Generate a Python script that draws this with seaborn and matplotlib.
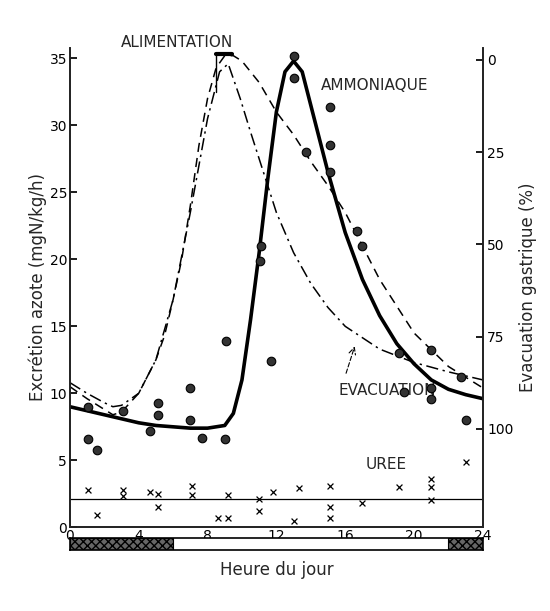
import matplotlib
matplotlib.use("Agg")
import matplotlib.pyplot as plt
import seaborn as sns
import pandas as pd
from matplotlib.patches import Rectangle

sns.set_theme(style="white")
plt.rcParams['font.family'] = ['DejaVu Sans']

amm_x = [1.05, 1.05, 1.6, 3.1, 4.65, 5.1, 5.1, 7.0, 7.0, 7.7, 9.0, 9.1, 11.05, 11.1, 11.7, 13.0, 13.0, 13.7, 15.1, 15.1, 15.1, 16.7, 17.0, 19.1, 19.4, 21.0, 21.0, 21.0, 22.7, 23.0]
amm_y = [9.0, 6.6, 5.8, 8.7, 7.2, 9.3, 8.4, 10.4, 8.0, 6.7, 6.6, 13.9, 19.9, 21.0, 12.4, 35.2, 33.5, 28.0, 31.4, 28.5, 26.5, 22.1, 21.0, 13.0, 10.1, 13.2, 10.4, 9.6, 11.2, 8.0]
uree_x = [1.05, 1.6, 3.1, 3.1, 4.65, 5.1, 5.1, 7.1, 7.1, 8.6, 9.2, 9.2, 11.0, 11.0, 11.8, 13.0, 13.3, 15.1, 15.1, 15.1, 17.0, 19.1, 21.0, 21.0, 21.0, 23.0]
uree_y = [2.8, 0.9, 2.8, 2.3, 2.6, 2.5, 1.5, 3.1, 2.4, 0.7, 0.7, 2.4, 2.1, 1.2, 2.6, 0.5, 2.9, 3.1, 1.5, 0.7, 1.8, 3.0, 3.6, 3.0, 2.0, 4.9]
uree_level = 2.1

sol_x = [0, 1, 2, 3, 4, 5, 6, 7, 8, 9, 9.5, 10, 10.5, 11, 11.5, 12, 12.5, 13, 13.5, 14, 15, 16, 17, 18, 19, 20, 21, 22, 23, 24]
sol_y = [9.0, 8.7, 8.4, 8.1, 7.8, 7.6, 7.5, 7.4, 7.4, 7.6, 8.5, 11.0, 15.5, 20.5, 26.0, 31.0, 34.0, 34.8, 34.0, 31.5, 26.5, 22.0, 18.5, 15.8, 13.7, 12.2, 11.0, 10.3, 9.9, 9.6]
dash_x = [0, 1, 2, 2.5, 3, 4, 5, 5.5, 6, 6.5, 7, 7.5, 8, 8.5, 9, 9.5, 10, 11, 12, 13, 14, 15, 16, 18, 20, 22, 24]
dash_y = [10.5, 9.6, 8.8, 8.4, 8.6, 10.0, 12.5, 14.3, 17.0, 20.0, 24.0, 28.5, 32.0, 34.3, 35.2, 35.2, 34.8, 33.2, 31.0, 29.3, 27.3, 25.5, 23.5, 18.5, 14.5, 12.0, 10.4]
dd_x = [0, 1, 2, 2.5, 3, 4, 5, 6, 7, 8, 8.7, 9.2, 9.9, 10.5, 11, 12, 13, 14, 15, 16, 18, 20, 22, 24]
dd_y = [10.8, 10.0, 9.3, 9.0, 9.1, 10.0, 12.5, 17.0, 23.5, 30.5, 34.0, 34.6, 32.0, 29.5, 27.5, 23.5, 20.5, 18.2, 16.4, 15.0, 13.3, 12.3, 11.6, 11.0]

fig = plt.figure(figsize=(5.5, 6.11), dpi=100)
ax = fig.add_axes([0.127, 0.137, 0.751, 0.785])
ax.set_xlim(0, 24)
ax.set_ylim(0, 35.8)

sns.lineplot(x=sol_x, y=sol_y, ax=ax, color='black', lw=2.6, sort=False)
sns.lineplot(x=dash_x, y=dash_y, ax=ax, color='black', lw=1.1, sort=False, linestyle=(0, (6, 4)))
sns.lineplot(x=dd_x, y=dd_y, ax=ax, color='black', lw=1.1, sort=False, linestyle=(0, (8, 3, 1.5, 3)))
sns.scatterplot(x=amm_x, y=amm_y, ax=ax, color='#333333', s=38, edgecolor='black', linewidth=0.8, zorder=5)
sns.scatterplot(x=uree_x, y=uree_y, ax=ax, color='black', marker='x', s=18, linewidth=0.9, zorder=5)
ax.axhline(uree_level, color='black', lw=0.9)

ax.plot([8.5, 9.4], [35.3, 35.3], color='black', lw=3)
ax.plot([8.5, 8.5], [35.3, 32.5], color='black', lw=1)
ax.text(6.2, 35.6, 'ALIMENTATION', fontsize=11, ha='center', va='bottom')
ax.text(14.6, 33.0, 'AMMONIAQUE', fontsize=11, ha='left', va='center')
ax.text(15.6, 10.2, 'EVACUATION', fontsize=11, ha='left', va='center')
ax.annotate('', xy=(16.6, 13.7), xytext=(16.0, 11.3),
            arrowprops=dict(arrowstyle='->', color='black', lw=0.8, linestyle=(0, (4, 2))))
ax.text(17.2, 4.7, 'UREE', fontsize=11, ha='left', va='center')

ax.set_yticks([0, 5, 10, 15, 20, 25, 30, 35])
ax.set_xticks([0, 4, 8, 12, 16, 20, 24])
ax.tick_params(axis='both', direction='in', length=5, labelsize=10, colors='black', pad=2)
ax.tick_params(axis='x', pad=1)
ax.spines['top'].set_visible(False)
for s in ['left', 'right', 'bottom']:
    ax.spines[s].set_color('black')
    ax.spines[s].set_linewidth(1.2)
ax.set_ylabel('Excrétion azote (mgN/kg/h)', fontsize=12, labelpad=2)

ax2 = ax.twinx()
ax2.set_ylim(126.7, -3.3)
ax2.set_yticks([0, 25, 50, 75, 100])
ax2.tick_params(axis='y', direction='in', length=5, labelsize=10, colors='black', pad=3)
ax2.spines['top'].set_visible(False)
ax2.set_ylabel('Evacuation gastrique (%)', fontsize=12, labelpad=4)

bx = fig.add_axes([0.127, 0.10, 0.751, 0.019])
bx.set_xlim(0, 24)
bx.set_ylim(0, 1)
bx.add_patch(Rectangle((0, 0), 6, 1, facecolor='#666666', hatch='xxxx', edgecolor='black', lw=0.8))
bx.add_patch(Rectangle((22, 0), 2, 1, facecolor='#666666', hatch='xxxx', edgecolor='black', lw=0.8))
bx.set_xticks([])
bx.set_yticks([])
for s in bx.spines.values():
    s.set_color('black')
    s.set_linewidth(1.2)
bx.set_xlabel('Heure du jour', fontsize=12, labelpad=8)

fig.savefig('out.png', dpi=100, facecolor='white')
